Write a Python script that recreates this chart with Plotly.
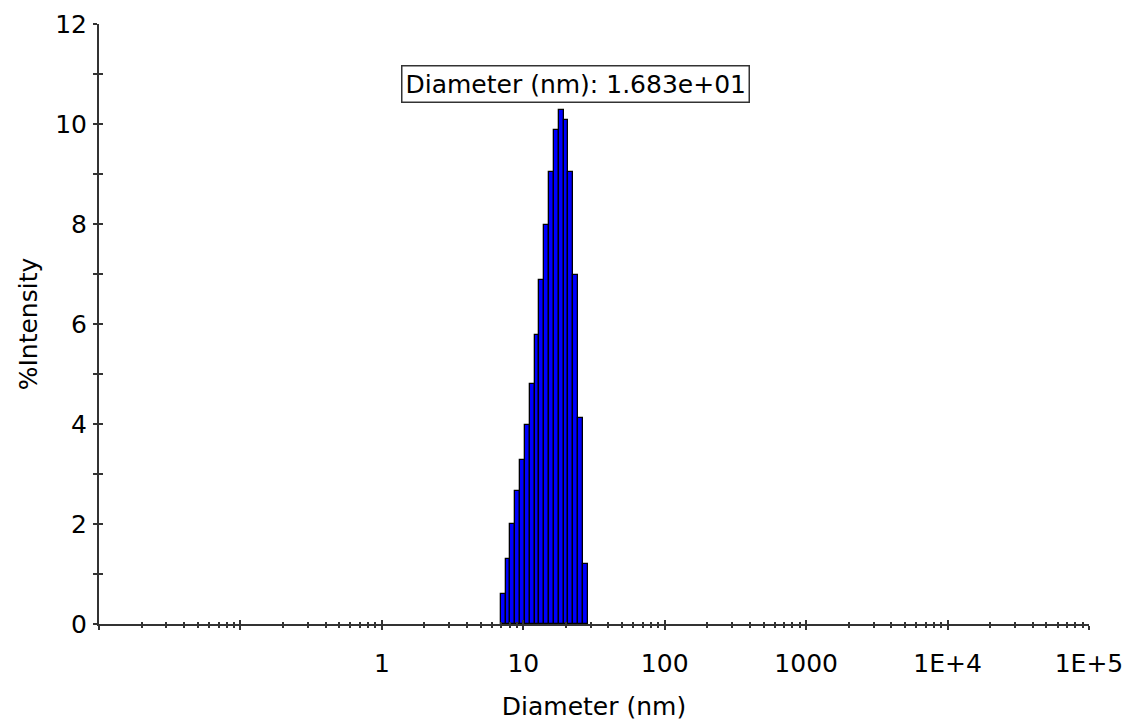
import numpy as np
import plotly.graph_objects as go

# Data
diameter_nm = [7.21, 7.80, 8.44, 9.13, 9.87, 10.68, 11.55, 12.50, 13.52,
               14.62, 15.82, 17.11, 18.51, 20.02, 21.66, 23.43, 25.34, 27.41]
intensity_pct = [0.61, 1.31, 2.01, 2.66, 3.28, 3.98, 4.80, 5.79, 6.88,
                 7.99, 9.04, 9.88, 10.29, 10.09, 9.04, 6.98, 4.12, 1.20]
peak_label = "Diameter (nm): 1.683e+01"
x_tick_labels = ["1", "10", "100", "1000", "1E+4", "1E+5"]
x_tick_decades = [0, 1, 2, 3, 4, 5]

FONT = "DejaVu Sans"
AXIS_COLOR = "#333333"

logx = np.log10(np.array(diameter_nm))

major_x = list(range(-2, 6))
minor_x = [np.log10(m * 10.0 ** d) for d in range(-2, 5) for m in range(2, 10)]

fig = go.Figure()
fig.add_trace(go.Bar(
    x=logx, y=intensity_pct,
    marker=dict(color="#0000FF", line=dict(color="black", width=1.3)),
    hoverinfo="skip", showlegend=False,
))
# dummy trace to realise the overlay axes (crossing tick marks)
fig.add_trace(go.Scatter(x=[], y=[], xaxis="x2", yaxis="y2", showlegend=False))

xr = [-2.0, 5.0]
yr = [0, 12]

common_font = dict(family=FONT, size=25, color="black")

fig.update_layout(
    width=1129, height=723,
    margin=dict(l=99, r=40, t=24, b=99),
    plot_bgcolor="white", paper_bgcolor="white",
    bargap=0,
    font=common_font,
    xaxis=dict(
        type="linear", range=xr, showgrid=False, zeroline=False, automargin=False,
        showline=True, linecolor=AXIS_COLOR, linewidth=2,
        tickmode="array", tickvals=major_x,
        ticktext=["", ""] + x_tick_labels,
        ticks="outside", ticklen=4, tickwidth=1.5, tickcolor=AXIS_COLOR,
        tickfont=common_font, ticklabelstandoff=12,
        minor=dict(tickmode="array", tickvals=minor_x, ticks="outside",
                   ticklen=2, tickwidth=1.5, tickcolor=AXIS_COLOR, showgrid=False),
        title=dict(text="Diameter (nm)", font=common_font, standoff=20),
    ),
    yaxis=dict(
        range=yr, showgrid=False, zeroline=False, automargin=False,
        showline=True, linecolor=AXIS_COLOR, linewidth=2,
        tickmode="linear", tick0=0, dtick=2,
        ticks="outside", ticklen=4, tickwidth=1.5, tickcolor=AXIS_COLOR,
        tickfont=common_font, ticklabelstandoff=1,
        minor=dict(tickmode="linear", tick0=1, dtick=2, ticks="outside",
                   ticklen=4, tickwidth=1.5, tickcolor=AXIS_COLOR, showgrid=False),
        title=dict(text="%Intensity", font=common_font, standoff=10),
    ),
    xaxis2=dict(
        overlaying="x", anchor="y", range=xr, showgrid=False, zeroline=False,
        showline=False, showticklabels=False, automargin=False,
        tickmode="array", tickvals=major_x,
        ticks="inside", ticklen=4, tickwidth=1.5, tickcolor=AXIS_COLOR,
        minor=dict(tickmode="array", tickvals=minor_x, ticks="inside",
                   ticklen=2, tickwidth=1.5, tickcolor=AXIS_COLOR, showgrid=False),
    ),
    yaxis2=dict(
        overlaying="y", anchor="x", side="left", range=yr, showgrid=False,
        zeroline=False, showline=False, showticklabels=False, automargin=False,
        tickmode="linear", tick0=0, dtick=2,
        ticks="inside", ticklen=4, tickwidth=1.5, tickcolor=AXIS_COLOR,
        minor=dict(tickmode="linear", tick0=1, dtick=2, ticks="inside",
                   ticklen=4, tickwidth=1.5, tickcolor=AXIS_COLOR, showgrid=False),
    ),
)

fig.add_annotation(
    text=peak_label, xref="paper", yref="paper", x=0.4818, y=0.9008,
    xanchor="center", yanchor="middle", showarrow=False,
    font=common_font, bgcolor="white", bordercolor="#333333", borderwidth=1.5,
    borderpad=3,
)

fig.write_html("out.html")
